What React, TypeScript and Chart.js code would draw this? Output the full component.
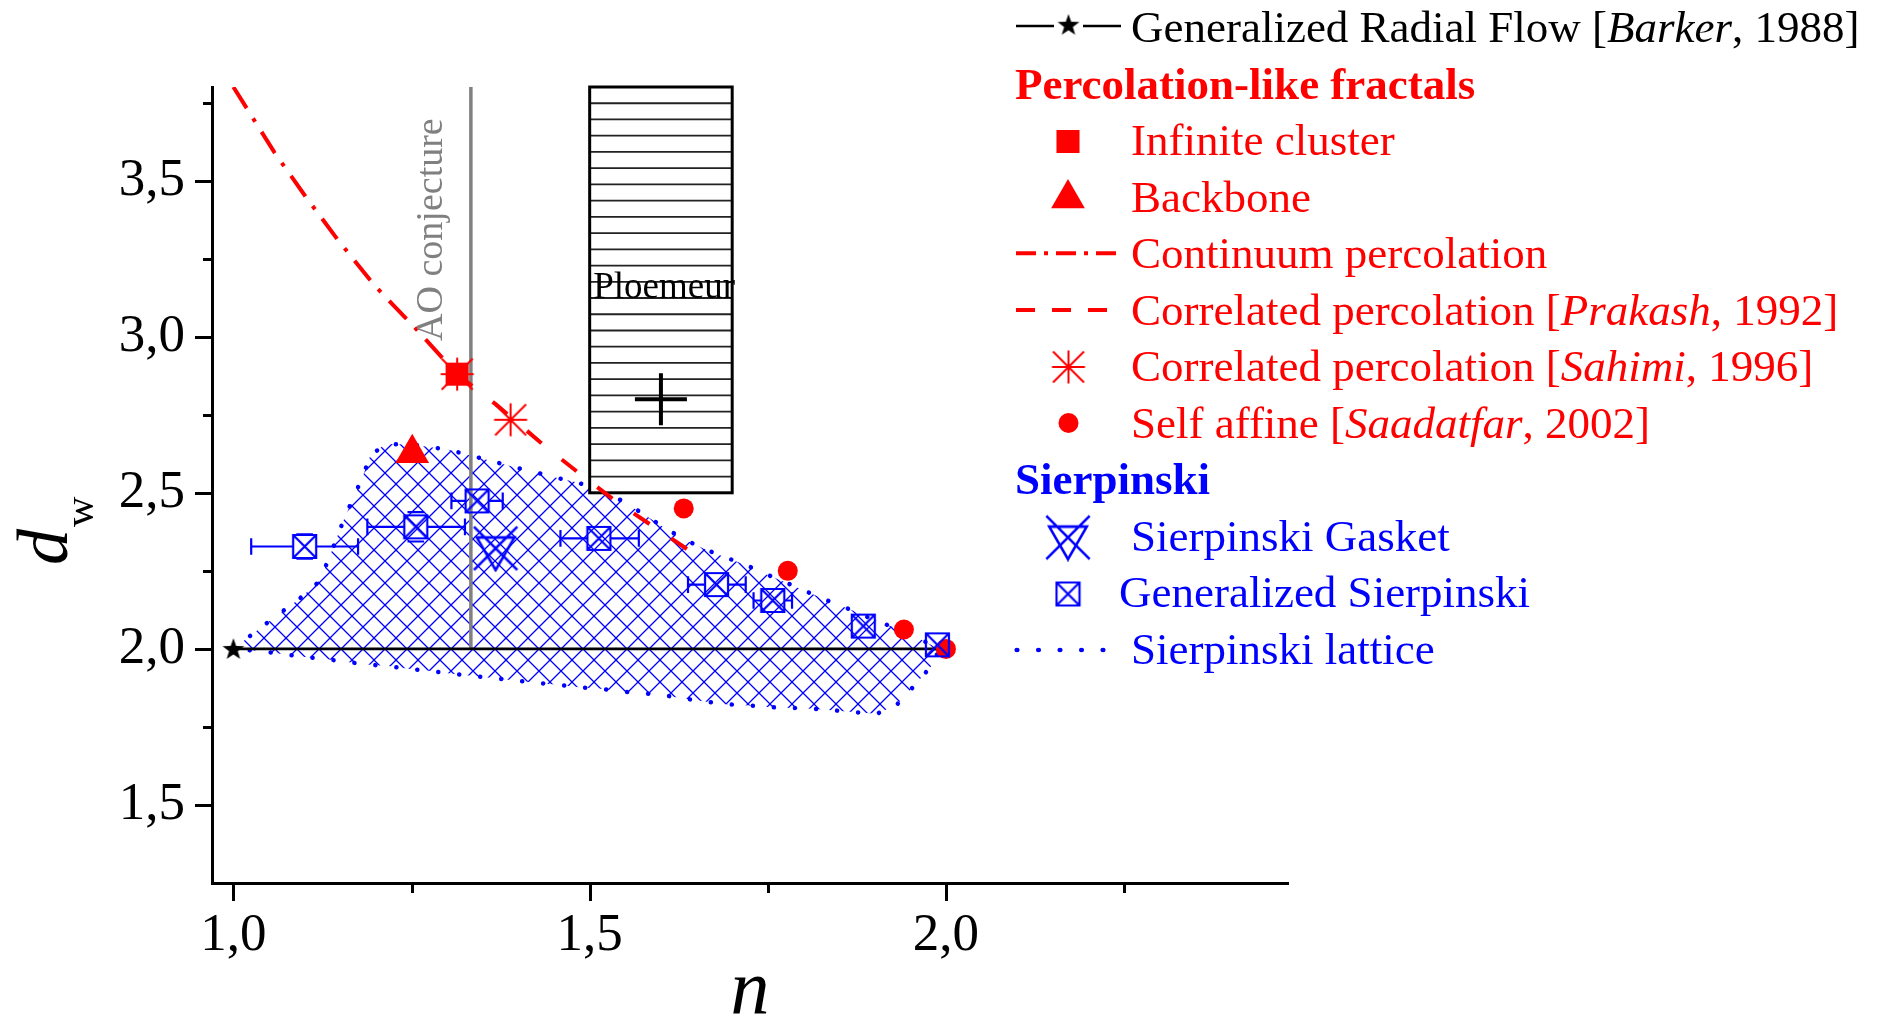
import React, { useEffect, useRef } from 'react';
import { Chart, registerables } from 'chart.js';
import { drawPoint } from 'chart.js/helpers';

Chart.register(...registerables);

const FONT = '"Liberation Serif", "Times New Roman", Times, serif';
const RED = '#ff0000';
const BLUE = '#0000ff';
const GREY = '#808080';
const BLACK = '#000000';

// Axes: n (x) against walk dimension d_w (y)
const nRange = [0.97, 2.48];
const dwRange = [1.25, 3.8];
const nTicks = [1.0, 1.25, 1.5, 1.75, 2.0, 2.25];
const dwTicks = [1.5, 1.75, 2.0, 2.25, 2.5, 2.75, 3.0, 3.25, 3.5, 3.75];

// Generalized Radial Flow [Barker, 1988]
const barkerN = [1.0, 2.0];
const barkerDw = [2.0, 2.0];

// Percolation-like fractals
const infiniteClusterN = [1.314];
const infiniteClusterDw = [2.88];
const backboneN = [1.251];
const backboneDw = [2.627];
const continuumN = [1.0, 1.058, 1.101, 1.148, 1.199, 1.256, 1.314];
const continuumDw = [3.8, 3.589, 3.45, 3.306, 3.162, 3.026, 2.88];
const prakashN = [1.314, 1.368, 1.438, 1.49, 1.539, 1.639];
const prakashDw = [2.88, 2.784, 2.648, 2.554, 2.469, 2.316];
const sahimiN = [1.314, 1.389];
const sahimiDw = [2.88, 2.734];
const saadatfarN = [1.632, 1.778, 1.941, 2.0];
const saadatfarDw = [2.45, 2.25, 2.062, 2.0];

// Sierpinski
const gasketN = [1.368];
const gasketDw = [2.322];
const genSierpN = [1.1, 1.256, 1.342, 1.513, 1.678, 1.757, 1.884, 1.988];
const genSierpDw = [2.328, 2.391, 2.474, 2.354, 2.206, 2.155, 2.073, 2.013];
const genSierpNLow = [1.025, 1.188, 1.306, 1.459, 1.638, 1.73, 1.884, 1.988];
const genSierpNHigh = [1.175, 1.325, 1.378, 1.569, 1.719, 1.784, 1.884, 1.988];
const genSierpDwErr = [0.039, 0.047, 0, 0, 0, 0, 0, 0];

// Sierpinski lattice domain: upper edge left to right, then lower edge back
const latticeN = [
  1.0, 1.031, 1.061, 1.091, 1.118, 1.132, 1.143, 1.155, 1.168, 1.181, 1.192, 1.213,
  1.25, 1.302, 1.362, 1.391, 1.422, 1.452, 1.483, 1.512, 1.541, 1.572, 1.601, 1.63,
  1.661, 1.691, 1.721, 1.75, 1.78, 1.809, 1.838, 1.869, 1.899, 1.93, 1.959, 1.99,
  1.983, 1.958, 1.931, 1.903, 1.874, 1.843, 1.814, 1.784, 1.754, 1.724, 1.694, 1.664,
  1.635, 1.605, 1.575, 1.546, 1.515, 1.485, 1.456, 1.427, 1.396, 1.367, 1.337, 1.307,
  1.277, 1.246, 1.217, 1.187, 1.157, 1.127, 1.097, 1.068, 1.038, 1.0,
];
const latticeDw = [
  2.0, 2.055, 2.107, 2.157, 2.211, 2.277, 2.343, 2.414, 2.482, 2.549, 2.618, 2.656,
  2.655, 2.638, 2.602, 2.584, 2.567, 2.549, 2.533, 2.51, 2.48, 2.437, 2.394, 2.354,
  2.32, 2.293, 2.267, 2.237, 2.208, 2.179, 2.151, 2.123, 2.093, 2.066, 2.037, 2.0,
  1.955, 1.888, 1.821, 1.792, 1.797, 1.803, 1.808, 1.811, 1.813, 1.819, 1.822, 1.831,
  1.84, 1.851, 1.858, 1.863, 1.872, 1.877, 1.885, 1.891, 1.899, 1.906, 1.913, 1.92,
  1.929, 1.936, 1.945, 1.95, 1.959, 1.968, 1.975, 1.984, 1.993, 2.0,
];

// AO conjecture, n = 4/3
const aoN = [1.3333, 1.3333];
const aoDw = [2.0, 3.8];

// Ploemeur estimate and its range
const ploemeurN = [1.6];
const ploemeurDw = [2.8];
const ploemeurRangeN = [1.5, 1.7];
const ploemeurRangeDw = [2.5, 3.8];

const zip = (xs: number[], ys: number[]) => xs.map((x, i) => ({ x, y: ys[i] }));
const isMajor = (v: number) => Math.abs(v * 2 - Math.round(v * 2)) < 1e-9;
const fmt = (v: number) => v.toFixed(1).replace('.', ',');

function makeCanvas(w: number, h: number, draw: (g: CanvasRenderingContext2D) => void) {
  const c = document.createElement('canvas');
  c.width = w;
  c.height = h;
  draw(c.getContext('2d')!);
  return c;
}

function buildMarkers() {
  const star = makeCanvas(24, 24, (g) => {
    g.fillStyle = BLACK;
    g.beginPath();
    for (let k = 0; k < 10; k++) {
      const r = k % 2 === 0 ? 11.5 : 4.6;
      const a = -Math.PI / 2 + (k * Math.PI) / 5;
      const px = 12 + r * Math.cos(a);
      const py = 12.8 + r * Math.sin(a);
      if (k === 0) g.moveTo(px, py);
      else g.lineTo(px, py);
    }
    g.closePath();
    g.fill();
  });
  const gasket = makeCanvas(48, 48, (g) => {
    const c = 24;
    const R = 21.7;
    g.strokeStyle = BLUE;
    g.lineWidth = 2.6;
    g.beginPath();
    g.moveTo(c - R * 0.866, c - R / 2);
    g.lineTo(c + R * 0.866, c - R / 2);
    g.lineTo(c, c + R);
    g.closePath();
    g.moveTo(c - R, c - R);
    g.lineTo(c + R, c + R);
    g.moveTo(c + R, c - R);
    g.lineTo(c - R, c + R);
    g.stroke();
  });
  const box = makeCanvas(27, 27, (g) => {
    g.strokeStyle = BLUE;
    g.lineWidth = 2.2;
    g.beginPath();
    g.rect(2, 2, 23, 23);
    g.moveTo(2, 2);
    g.lineTo(25, 25);
    g.moveTo(25, 2);
    g.lineTo(2, 25);
    g.stroke();
  });
  const asterisk = makeCanvas(36, 36, (g) => {
    const c = 18;
    g.strokeStyle = RED;
    g.lineWidth = 2;
    g.beginPath();
    g.moveTo(c - 16.5, c);
    g.lineTo(c + 16.5, c);
    g.moveTo(c, c - 16.5);
    g.lineTo(c, c + 16.5);
    g.moveTo(c - 15.5, c - 15.5);
    g.lineTo(c + 15.5, c + 15.5);
    g.moveTo(c + 15.5, c - 15.5);
    g.lineTo(c - 15.5, c + 15.5);
    g.stroke();
  });
  const hatchTile = makeCanvas(22, 22, (g) => {
    g.strokeStyle = BLUE;
    g.lineWidth = 1.3;
    g.beginPath();
    for (const o of [-22, 0, 22]) {
      g.moveTo(o, 0);
      g.lineTo(o + 22, 22);
      g.moveTo(o + 22, 0);
      g.lineTo(o, 22);
    }
    g.stroke();
  });
  return { star, gasket, box, asterisk, hatchTile };
}

type Markers = ReturnType<typeof buildMarkers>;
type Part = [string, boolean];

function drawParts(ctx: CanvasRenderingContext2D, parts: Part[], x: number, y: number, size: number, bold = false) {
  let cx = x;
  for (const [text, italic] of parts) {
    ctx.font = `${italic ? 'italic ' : ''}${bold ? 'bold ' : ''}${size}px ${FONT}`;
    ctx.fillText(text, cx, y);
    cx += ctx.measureText(text).width;
  }
}

function makeOverlay(markers: Markers) {
  return {
    id: 'overlay',
    beforeDatasetDraw(chart: any, args: any) {
      const ds = chart.data.datasets[args.index];
      if (ds.label !== 'Generalized Sierpinski') return;
      const { ctx } = chart;
      const xs = chart.scales.x;
      const ys = chart.scales.y;
      const half = 11.5;
      const cap = 8.3;
      ctx.save();
      ctx.strokeStyle = BLUE;
      ctx.lineWidth = 2.2;
      ctx.beginPath();
      genSierpN.forEach((n, i) => {
        const cx = xs.getPixelForValue(n);
        const cy = ys.getPixelForValue(genSierpDw[i]);
        const lo = xs.getPixelForValue(genSierpNLow[i]);
        const hi = xs.getPixelForValue(genSierpNHigh[i]);
        if (cx - lo > half) {
          ctx.moveTo(lo, cy);
          ctx.lineTo(cx - half, cy);
          ctx.moveTo(lo, cy - cap);
          ctx.lineTo(lo, cy + cap);
        }
        if (hi - cx > half) {
          ctx.moveTo(cx + half, cy);
          ctx.lineTo(hi, cy);
          ctx.moveTo(hi, cy - cap);
          ctx.lineTo(hi, cy + cap);
        }
        const e = genSierpDwErr[i];
        if (e > 0) {
          const top = ys.getPixelForValue(genSierpDw[i] + e);
          const bot = ys.getPixelForValue(genSierpDw[i] - e);
          ctx.moveTo(cx - cap, top);
          ctx.lineTo(cx + cap, top);
          ctx.moveTo(cx - cap, bot);
          ctx.lineTo(cx + cap, bot);
        }
      });
      ctx.stroke();
      ctx.restore();
    },
    afterDatasetDraw(chart: any, args: any) {
      const ds = chart.data.datasets[args.index];
      if (ds.label !== 'Sierpinski lattice') return;
      const { ctx } = chart;
      const xs = chart.scales.x;
      const ys = chart.scales.y;
      const l = xs.getPixelForValue(ploemeurRangeN[0]);
      const r = xs.getPixelForValue(ploemeurRangeN[1]);
      const t = ys.getPixelForValue(ploemeurRangeDw[1]);
      const b = ys.getPixelForValue(ploemeurRangeDw[0]);
      ctx.save();
      ctx.fillStyle = '#ffffff';
      ctx.fillRect(l, t, r - l, b - t);
      ctx.strokeStyle = '#222222';
      ctx.lineWidth = 1.8;
      ctx.beginPath();
      const rows = 25;
      for (let k = 1; k < rows; k++) {
        const y = t + ((b - t) * k) / rows;
        ctx.moveTo(l, y);
        ctx.lineTo(r, y);
      }
      ctx.stroke();
      ctx.strokeStyle = BLACK;
      ctx.lineWidth = 3;
      ctx.strokeRect(l, t, r - l, b - t);
      ctx.restore();
    },
    afterDraw(chart: any) {
      const { ctx, chartArea } = chart;
      const xs = chart.scales.x;
      const ys = chart.scales.y;
      ctx.save();

      // tick marks (major and minor)
      ctx.strokeStyle = BLACK;
      ctx.lineWidth = 3;
      ctx.beginPath();
      const axisY = chartArea.bottom;
      for (const v of nTicks) {
        const px = Math.round(xs.getPixelForValue(v)) + 0.5;
        ctx.moveTo(px, axisY);
        ctx.lineTo(px, axisY + (isMajor(v) ? 18 : 10));
      }
      const axisX = chartArea.left;
      for (const v of dwTicks) {
        const py = Math.round(ys.getPixelForValue(v)) + 0.5;
        ctx.moveTo(axisX, py);
        ctx.lineTo(axisX - (isMajor(v) ? 17 : 9), py);
      }
      ctx.stroke();

      // axis titles
      ctx.fillStyle = BLACK;
      ctx.textAlign = 'center';
      ctx.textBaseline = 'alphabetic';
      ctx.font = `italic 78px ${FONT}`;
      ctx.fillText('n', (chartArea.left + chartArea.right) / 2, 1014);

      ctx.save();
      ctx.translate(67, 565);
      ctx.rotate(-Math.PI / 2);
      ctx.textAlign = 'left';
      ctx.font = `italic 72px ${FONT}`;
      ctx.fillText('d', 0, 0);
      const dW = ctx.measureText('d').width;
      ctx.font = `42px ${FONT}`;
      ctx.fillText('w', dW + 2, 26);
      ctx.restore();

      // AO conjecture label
      ctx.save();
      ctx.translate(xs.getPixelForValue(aoN[0]) - 28.6, ys.getPixelForValue(aoDw[0]) - 308);
      ctx.rotate(-Math.PI / 2);
      ctx.textAlign = 'left';
      ctx.fillStyle = GREY;
      ctx.font = `38px ${FONT}`;
      ctx.fillText('AO conjecture', 0, 0);
      ctx.restore();

      // Ploemeur label
      ctx.textAlign = 'left';
      ctx.fillStyle = BLACK;
      ctx.font = `37px ${FONT}`;
      ctx.fillText('Ploemeur', xs.getPixelForValue(ploemeurRangeN[0]) + 3.5, ys.getPixelForValue(ploemeurRangeDw[1]) + 210.5);

      // legend
      const size = 45;
      const symX = 1068;
      const lineL = 1016;
      const textX = 1131;
      const headX = 1015;
      const base = (i: number) => 42 + i * 56.5;
      ctx.textAlign = 'left';

      // row 0: Generalized Radial Flow
      let b = base(0);
      ctx.strokeStyle = BLACK;
      ctx.lineWidth = 2.7;
      ctx.beginPath();
      ctx.moveTo(lineL, b - 16);
      ctx.lineTo(1054, b - 16);
      ctx.moveTo(1083, b - 16);
      ctx.lineTo(1121, b - 16);
      ctx.stroke();
      ctx.drawImage(markers.star, symX + 0.5 - 12, b - 16.5 - 12.8);
      ctx.fillStyle = BLACK;
      drawParts(ctx, [['Generalized Radial Flow [', false], ['Barker', true], [', 1988]', false]], textX, b, size);

      // row 1: header
      ctx.fillStyle = RED;
      drawParts(ctx, [['Percolation-like fractals', false]], headX, base(1), size, true);

      // row 2: infinite cluster
      b = base(2);
      ctx.fillStyle = RED;
      drawPoint(ctx, { pointStyle: 'rect', radius: 16.3, borderWidth: 0, rotation: 0 } as any, symX, b - 13.5);
      drawParts(ctx, [['Infinite cluster', false]], textX, b, size);

      // row 3: backbone
      b = base(3);
      ctx.fillStyle = RED;
      drawPoint(ctx, { pointStyle: 'triangle', radius: 19.5, borderWidth: 0, rotation: 0 } as any, symX, b - 13);
      drawParts(ctx, [['Backbone', false]], textX, b, size);

      // row 4: continuum percolation
      b = base(4);
      ctx.strokeStyle = RED;
      ctx.lineWidth = 4;
      ctx.setLineDash([20, 8, 4, 8]);
      ctx.beginPath();
      ctx.moveTo(lineL, b - 14.7);
      ctx.lineTo(1121, b - 14.7);
      ctx.stroke();
      ctx.fillStyle = RED;
      drawParts(ctx, [['Continuum percolation', false]], textX, b, size);

      // row 5: correlated percolation, Prakash
      b = base(5);
      ctx.setLineDash([19, 17]);
      ctx.beginPath();
      ctx.moveTo(lineL, b - 14.5);
      ctx.lineTo(1107, b - 14.5);
      ctx.stroke();
      ctx.setLineDash([]);
      drawParts(ctx, [['Correlated percolation [', false], ['Prakash', true], [', 1992]', false]], textX, b, size);

      // row 6: correlated percolation, Sahimi
      b = base(6);
      ctx.drawImage(markers.asterisk, symX + 0.5 - 18, b - 14 - 18);
      drawParts(ctx, [['Correlated percolation [', false], ['Sahimi', true], [', 1996]', false]], textX, b, size);

      // row 7: self affine
      b = base(7);
      ctx.beginPath();
      ctx.arc(symX + 0.5, b - 14.5, 10, 0, Math.PI * 2);
      ctx.fill();
      drawParts(ctx, [['Self affine [', false], ['Saadatfar', true], [', 2002]', false]], textX, b, size);

      // row 8: header
      ctx.fillStyle = BLUE;
      drawParts(ctx, [['Sierpinski', false]], headX, base(8), size, true);

      // row 9: gasket
      b = base(9);
      ctx.drawImage(markers.gasket, symX - 24, b - 13 - 24);
      drawParts(ctx, [['Sierpinski Gasket', false]], textX, b, size);

      // row 10: generalized Sierpinski
      b = base(10);
      ctx.drawImage(markers.box, symX - 13.5, b - 13 - 13.5);
      drawParts(ctx, [['Generalized Sierpinski', false]], 1119, b, size);

      // row 11: lattice
      b = base(11);
      for (let k = 0; k < 5; k++) {
        ctx.beginPath();
        ctx.ellipse(1017 + k * 21.5, b - 13.5, 2.6, 2.2, 0, 0, Math.PI * 2);
        ctx.fill();
      }
      drawParts(ctx, [['Sierpinski lattice', false]], textX, b, size);

      ctx.restore();
    },
  };
}

export default function App() {
  const ref = useRef<HTMLCanvasElement>(null);

  useEffect(() => {
    const canvas = ref.current!;
    const markers = buildMarkers();
    const hatch = canvas.getContext('2d')!.createPattern(markers.hatchTile, 'repeat');

    const tickFont = { family: FONT, size: 53 };

    const chart = new Chart(canvas, {
      type: 'scatter',
      data: {
        datasets: [
          {
            label: 'Sierpinski lattice',
            data: zip(latticeN, latticeDw),
            showLine: true,
            fill: 'shape',
            backgroundColor: hatch as any,
            borderColor: BLUE,
            borderWidth: 4.5,
            borderDash: [0.1, 21],
            borderCapStyle: 'round',
            pointRadius: 0,
            order: 10,
          } as any,
          {
            label: 'AO conjecture',
            data: zip(aoN, aoDw),
            showLine: true,
            borderColor: GREY,
            borderWidth: 3.5,
            pointRadius: 0,
            order: 9,
          },
          {
            label: 'Generalized Radial Flow',
            data: zip(barkerN, barkerDw),
            showLine: true,
            borderColor: BLACK,
            borderWidth: 2.7,
            pointStyle: markers.star as any,
            pointRadius: [6, 0],
            order: 8,
          },
          {
            label: 'Ploemeur',
            data: zip(ploemeurN, ploemeurDw),
            pointStyle: 'cross',
            pointRadius: 26,
            pointBorderWidth: 4,
            pointBorderColor: BLACK,
            borderColor: BLACK,
            order: 7,
          },
          {
            label: 'Self affine [Saadatfar, 2002]',
            data: zip(saadatfarN, saadatfarDw),
            pointStyle: 'circle',
            pointRadius: 10,
            pointBorderWidth: 0,
            pointBackgroundColor: RED,
            backgroundColor: RED,
            borderColor: RED,
            order: 6,
          },
          {
            label: 'Sierpinski Gasket',
            data: zip(gasketN, gasketDw),
            pointStyle: markers.gasket as any,
            pointRadius: 10,
            order: 5,
          },
          {
            label: 'Generalized Sierpinski',
            data: zip(genSierpN, genSierpDw),
            pointStyle: markers.box as any,
            pointRadius: 10,
            order: 4,
          },
          {
            label: 'Continuum percolation',
            data: zip(continuumN, continuumDw),
            showLine: true,
            borderColor: RED,
            borderWidth: 4,
            borderDash: [25, 12, 4, 12],
            pointRadius: 0,
            order: 3,
          },
          {
            label: 'Correlated percolation [Prakash, 1992]',
            data: zip(prakashN, prakashDw),
            showLine: true,
            borderColor: RED,
            borderWidth: 4,
            borderDash: [19, 26],
            pointRadius: 0,
            order: 3,
          },
          {
            label: 'Correlated percolation [Sahimi, 1996]',
            data: zip(sahimiN, sahimiDw),
            pointStyle: markers.asterisk as any,
            pointRadius: 10,
            order: 2,
          },
          {
            label: 'Infinite cluster',
            data: zip(infiniteClusterN, infiniteClusterDw),
            pointStyle: 'rect',
            pointRadius: 16.3,
            pointBorderWidth: 0,
            pointBackgroundColor: RED,
            backgroundColor: RED,
            borderColor: RED,
            order: 1,
          },
          {
            label: 'Backbone',
            data: zip(backboneN, backboneDw),
            pointStyle: 'triangle',
            pointRadius: 19.5,
            pointBorderWidth: 0,
            pointBackgroundColor: RED,
            backgroundColor: RED,
            borderColor: RED,
            order: 1,
          },
        ],
      },
      options: {
        responsive: false,
        animation: false,
        devicePixelRatio: 1,
        events: [],
        layout: { padding: { left: 0, top: 87, right: 597, bottom: 0 } },
        plugins: {
          legend: { display: false },
          tooltip: { enabled: false },
        },
        scales: {
          x: {
            type: 'linear',
            min: nRange[0],
            max: nRange[1],
            afterBuildTicks: (s: any) => {
              s.ticks = nTicks.map((v) => ({ value: v }));
            },
            afterFit: (s: any) => {
              s.height = 138;
            },
            grid: { display: false, drawTicks: false },
            border: { display: true, color: BLACK, width: 3 },
            ticks: {
              font: tickFont,
              color: BLACK,
              padding: 21,
              maxRotation: 0,
              autoSkip: false,
              callback: (v: any) => (isMajor(Number(v)) ? fmt(Number(v)) : ''),
            },
          },
          y: {
            type: 'linear',
            min: dwRange[0],
            max: dwRange[1],
            afterBuildTicks: (s: any) => {
              s.ticks = dwTicks.map((v) => ({ value: v }));
            },
            afterFit: (s: any) => {
              s.width = 212;
            },
            grid: { display: false, drawTicks: false },
            border: { display: true, color: BLACK, width: 3 },
            ticks: {
              font: tickFont,
              color: BLACK,
              padding: 27,
              autoSkip: false,
              callback: (v: any) => (isMajor(Number(v)) ? fmt(Number(v)) : ''),
            },
          },
        },
      } as any,
      plugins: [makeOverlay(markers) as any],
    });

    return () => chart.destroy();
  }, []);

  return (
    <div style={{ position: 'absolute', left: 0, top: 0, width: 1885, height: 1021, background: '#ffffff' }}>
      <canvas ref={ref} width={1885} height={1021} style={{ display: 'block', width: 1885, height: 1021 }} />
    </div>
  );
}
